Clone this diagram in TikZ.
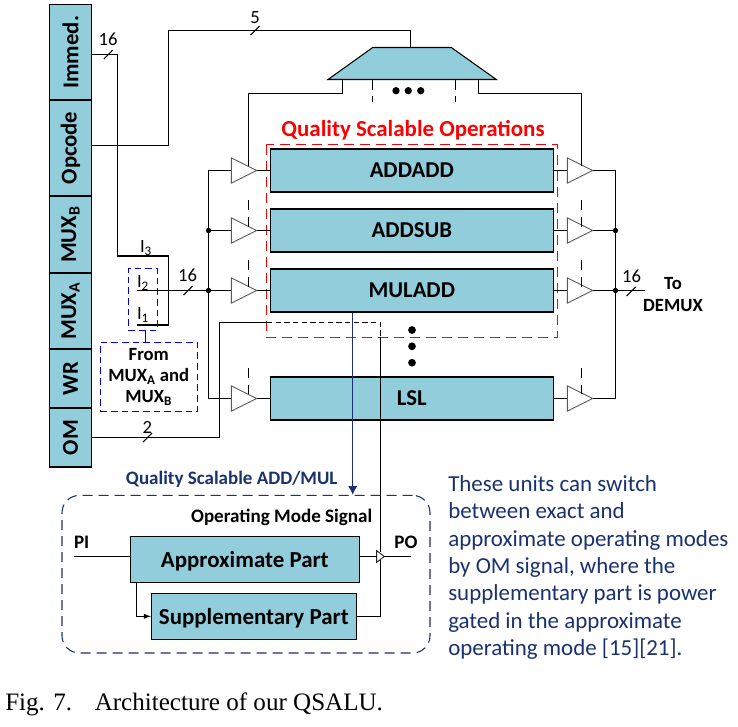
\documentclass[tikz,border=0pt]{standalone}
\usepackage{fontspec}
\setmainfont{Carlito}
\newfontfamily\capfont{Liberation Serif}
\usetikzlibrary{shapes.geometric, arrows.meta}
\definecolor{boxfill}{HTML}{92CDDC}
\definecolor{navyline}{HTML}{1A3170}
\definecolor{dashblue}{HTML}{0000E0}
\newcommand{\fsize}[1]{\fontsize{#1}{#1}\selectfont}
\tikzset{
	field/.style={draw, thick, fill=boxfill, rotate=90, inner sep=0, minimum height=31.3pt, font=\bfseries\fsize{17}},
	opbox/.style={draw, thick, fill=boxfill, inner sep=0, minimum width=212.25pt, minimum height=32.25pt, font=\bfseries\fsize{17}},
	buffer/.style={draw=black!65, line width=0.7pt, isosceles triangle, isosceles triangle stretches, shape border rotate=0, inner sep=0, outer sep=0, minimum width=19pt, minimum height=19pt, anchor=lower side},
	smallbuf/.style={draw=black!85, line width=0.7pt, fill=white, isosceles triangle, isosceles triangle stretches, shape border rotate=0, inner sep=0, outer sep=0, minimum width=8.7pt, minimum height=5.7pt, anchor=lower side},
	partbox/.style={draw, thick, fill=boxfill, inner sep=0, minimum height=34.5pt, text depth=0pt, font=\bfseries\fsize{17.2}},
	junction/.style={circle, fill, inner sep=0, minimum size=4pt},
	bigdot/.style={circle, fill, inner sep=0, minimum size=5.5pt},
	buslabel/.style={font=\fsize{14}, inner sep=0},
	smalllabel/.style={font=\bfseries\fsize{14.3}, inner sep=0},
	ctrl/.style={thick, dash pattern=on 7.5pt off 5pt},
	bluedash/.style={draw=dashblue, thick, dash pattern=on 5pt off 3pt},
}
\begin{document}
\begin{tikzpicture}[x=0.75pt, y=-0.75pt, >=latex]
	\useasboundingbox (0,0) rectangle (738,726);

	\node[field, minimum width=71.8pt] (immed) at (70.5,52.2) {Immed.};
	\node[field, minimum width=72pt] (opcode) at (70.5,148) {Opcode};
	\node[field, minimum width=57.75pt] (muxb) at (70.5,234.5) {MUX\textsubscript{B}};
	\node[field, minimum width=57pt] (muxa) at (70.5,311) {MUX\textsubscript{A}};
	\node[field, minimum width=44.25pt] (wr) at (70.5,378.5) {WR};
	\node[field, minimum width=44.25pt] (om) at (70.5,437.5) {OM};

	\node[opbox] (addadd) at (411.8,170.5) {ADDADD};
	\node[opbox] (addsub) at (411.8,230.5) {ADDSUB};
	\node[opbox] (muladd) at (411.8,290.5) {MULADD};
	\node[opbox] (lsl) at (411.8,398.5) {LSL};

	\draw[red, thick, dash pattern=on 7.5pt off 4.5pt] (266.3,144.7) rectangle (557.3,337.3);
	\node[text=red, font=\bfseries\fsize{17.2}, inner sep=0] (qso) at (413,130) {Quality Scalable Operations};

	\node[buffer] (bufa) at (231.3,170.5) {};
	\node[buffer] (bufb) at (231.3,230.5) {};
	\node[buffer] (bufc) at (231.3,290.5) {};
	\node[buffer] (bufd) at (231.3,398.5) {};
	\node[buffer] (bufe) at (567.3,170.5) {};
	\node[buffer] (buff) at (567.3,230.5) {};
	\node[buffer] (bufg) at (567.3,290.5) {};
	\node[buffer] (bufh) at (567.3,398.5) {};

	\draw[thick, fill=boxfill] (328,79.5) -- (372.7,47.5) -- (451.3,47.5) -- (496.3,79.5) -- cycle;

	\coordinate (dect) at (410.5,47.5);
	\coordinate (imc) at (117.5,256);
	\coordinate (muxt) at (168.5,256);
	\coordinate (muxbot) at (168.5,325);
	\coordinate (ione) at (137,325);
	\coordinate (itwo) at (137,290.5);
	\coordinate (opup) at (168.5,30.5);
	\coordinate (decl) at (342.5,79.5);
	\coordinate (decr) at (478.5,79.5);
	\coordinate (ctla) at (248.5,166);
	\coordinate (ctle) at (581.5,166);
	\coordinate (busld) at (208.5,398.5);
	\coordinate (busrd) at (615.5,398.5);
	\coordinate (demux) at (645,290.5);
	\coordinate (omup) at (219.5,322.5);
	\coordinate (omdash) at (267,322.5);
	\coordinate (omturn) at (380.5,322.5);
	\coordinate (omred) at (380.5,337.3);
	\coordinate (omsig) at (380.5,552);
	\coordinate (pi) at (74,556.5);
	\coordinate (po) at (411,556.5);
	\coordinate (apxd) at (136.5,582.3);

	\node[junction] (jlb) at (208.5,230.5) {};
	\node[junction] (jlc) at (208.5,290.5) {};
	\node[junction] (jrb) at (615.5,230.5) {};
	\node[junction] (jrc) at (615.5,290.5) {};

	\draw[thick] (immed.south |- 0,54.5) -| (imc) -- (muxt) -- (muxbot) -- (ione);
	\draw[thick] (itwo) -- (jlc) -- (bufc.lower side);
	\draw[thick] (opcode.south |- 0,145.5) -| (opup) -| (dect);
	\draw[thick] (decl) -- ++(0,14) -| (ctla);
	\draw[thick] (decr) -- ++(0,14) -| (ctle);
	\draw[thick] (bufa.lower side) -| (jlb) -- (jlc) -- (busld) -- (bufd.lower side);
	\draw[thick] (jlb) -- (bufb.lower side);
	\draw[thick] (bufa.apex) -- (addadd.west);
	\draw[thick] (bufb.apex) -- (addsub.west);
	\draw[thick] (bufc.apex) -- (muladd.west);
	\draw[thick] (bufd.apex) -- (lsl.west);
	\draw[thick] (addadd.east) -- (bufe.lower side);
	\draw[thick] (addsub.east) -- (buff.lower side);
	\draw[thick] (muladd.east) -- (bufg.lower side);
	\draw[thick] (lsl.east) -- (bufh.lower side);
	\draw[thick] (bufe.apex) -| (jrb) -- (jrc) -- (busrd) -- (bufh.apex);
	\draw[thick] (buff.apex) -- (jrb);
	\draw[thick] (bufg.apex) -- (jrc) -- (demux);
	\draw[thick] (om.south |- 0,437.5) -| (omup) -- (omdash);
	\draw[thick, dash pattern=on 4pt off 2.5pt] (omdash) -- (omturn) -- (omred);
	\draw[thick] (omred) -- (omsig);

	\draw[thick] (104,59) -- (112.7,50);
	\draw[thick] (250.5,35) -- (259.5,26);
	\draw[thick] (183.5,295) -- (192.5,286);
	\draw[thick] (143,442) -- (152,433);
	\draw[thick] (626.5,296) -- (635.5,287);

	\node[buslabel] (wa) at (108,39) {16};
	\node[buslabel] (wb) at (255,18) {5};
	\node[buslabel] (wc) at (187.7,275) {16};
	\node[buslabel] (wd) at (147.3,427) {2};
	\node[buslabel] (we) at (631.7,276) {16};
	\node[buslabel] (ithree) at (146,248) {I\textsubscript{3}};
	\node[buslabel] (itwol) at (143,283) {I\textsubscript{2}};
	\node[buslabel] (ionel) at (143,315) {I\textsubscript{1}};

	\node[smalllabel, align=center, font=\bfseries\fsize{14}] (todemux) at (673,294.5) {To\\[3pt]DEMUX};

	\draw[ctrl] (248.5,200) -- (248.5,226.5);
	\draw[ctrl] (248.5,260) -- (248.5,286.5);
	\draw[ctrl] (248.5,368) -- (248.5,394);
	\draw[ctrl] (581.5,200) -- (581.5,226.5);
	\draw[ctrl] (581.5,260) -- (581.5,286.5);
	\draw[ctrl] (581.5,368) -- (581.5,394);
	\draw[ctrl] (372.5,79.5) -- (372.5,101.7);
	\draw[ctrl] (455.5,79.5) -- (455.5,101.7);

	\node[bigdot] (da) at (396,90.7) {};
	\node[bigdot] (db) at (408.3,90.7) {};
	\node[bigdot] (dc) at (420.7,90.7) {};
	\node[bigdot, minimum size=5.8pt] (dd) at (412,330) {};
	\node[bigdot, minimum size=5.8pt] (de) at (412,346.3) {};
	\node[bigdot, minimum size=5.8pt] (df) at (412,362.7) {};

	\node[bluedash, inner sep=0, minimum width=21.75pt, minimum height=46.25pt] (ibox) at (142.8,299.2) {};
	\node[bluedash, inner sep=0, minimum width=72.75pt, minimum height=51.75pt, align=center, font=\bfseries\fsize{14}] (from) at (148.8,376.8) {From\\[2pt]MUX\textsubscript{A} and\\[2pt]MUX\textsubscript{B}};
	\draw[draw=dashblue, thick] (ibox.south -| 145.7,0) -- (from.north -| 145.7,0);

	\node[draw=navyline, thick, dash pattern=on 7.5pt off 4.5pt, rounded corners=13pt, inner sep=0, minimum width=276pt, minimum height=118.2pt] (unit) at (246,574.2) {};
	\node[text=navyline, font=\bfseries\fsize{14.25}, inner sep=0] (unitl) at (231.7,479.5) {Quality Scalable ADD/MUL};
	\draw[-{Latex[length=6.5pt,width=7pt]}, navyline, line width=1.1pt] (muladd.south -| 352.7,0) -- (unit.north -| 352.7,0);

	\node[partbox, minimum width=171.75pt] (apx) at (244.8,559.3) {Approximate Part};
	\node[partbox, minimum width=153.75pt] (sup) at (253.8,616.3) {Supplementary Part};
	\node[smallbuf] (bufs) at (376.7,556.5) {};
	\node[smalllabel] (oms) at (281.7,517) {Operating Mode Signal};
	\node[smalllabel] (pil) at (81.7,542.5) {PI};
	\node[smalllabel] (pol) at (406,542.5) {PO};

	\draw[thick] (pi) -- (apx.west |- pi);
	\draw[thick] (apx.east |- bufs.lower side) -- (bufs.lower side);
	\draw[thick] (bufs.apex) -- (po);
	\draw[->, thick] (apxd) |- (sup.west);
	\draw[thick] (sup.east) -| (bufs.south -| omsig);

	\node[text=navyline, align=left, font=\fsize{17.2}, inner sep=0, anchor=west] (note) at (448,567.5) {These units can switch\\[3.4pt]between exact and\\[3.4pt]approximate operating modes\\[3.4pt]by OM signal, where the\\[3.4pt]supplementary part is power\\[3.4pt]gated in the approximate\\[3.4pt]operating mode [15][21].};
	\node[font=\capfont\fsize{18.8}, inner sep=0, anchor=west] (caption) at (5,704) {Fig. 7.\hspace{17pt}Architecture of our QSALU.};
\end{tikzpicture}
\end{document}
